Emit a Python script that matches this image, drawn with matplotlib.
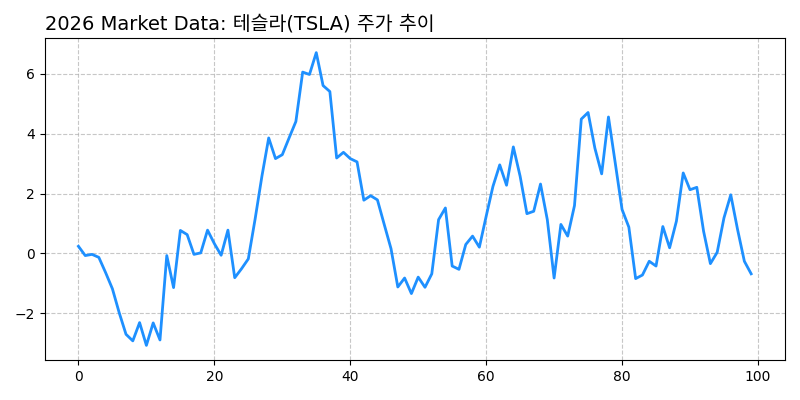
import matplotlib
matplotlib.use("Agg")
import matplotlib.pyplot as plt

plt.rcParams['font.family'] = ['DejaVu Sans', 'Noto Sans CJK KR']

title = "2026 Market Data: 테슬라(TSLA) 주가 추이"

days = list(range(100))
prices = [
    0.24, -0.07, -0.03, -0.13, -0.64, -1.18, -1.98, -2.70, -2.92, -2.31,
    -3.07, -2.32, -2.89, -0.07, -1.14, 0.77, 0.63, -0.03, 0.02, 0.78,
    0.33, -0.06, 0.78, -0.81, -0.51, -0.18, 1.15, 2.58, 3.86, 3.17,
    3.30, 3.86, 4.41, 6.06, 5.98, 6.71, 5.61, 5.41, 3.19, 3.38,
    3.17, 3.06, 1.78, 1.93, 1.79, 0.97, 0.16, -1.12, -0.82, -1.34,
    -0.79, -1.13, -0.68, 1.13, 1.52, -0.42, -0.53, 0.30, 0.58, 0.21,
    1.24, 2.24, 2.96, 2.28, 3.56, 2.58, 1.33, 1.41, 2.32, 1.13,
    -0.82, 0.97, 0.58, 1.60, 4.49, 4.71, 3.52, 2.66, 4.56, 3.02,
    1.47, 0.88, -0.84, -0.72, -0.26, -0.42, 0.90, 0.19, 1.08, 2.69,
    2.13, 2.21, 0.74, -0.34, 0.04, 1.19, 1.96, 0.80, -0.26, -0.68,
]

fig, ax = plt.subplots(figsize=(8, 4), dpi=100)
ax.plot(days, prices, color="#1E90FF", linewidth=2)
ax.set_title(title, loc="left", fontsize=14)
ax.grid(True, linestyle="--", alpha=0.7)
fig.subplots_adjust(left=0.056, right=0.981, bottom=0.1, top=0.905)
fig.savefig("out.png")
